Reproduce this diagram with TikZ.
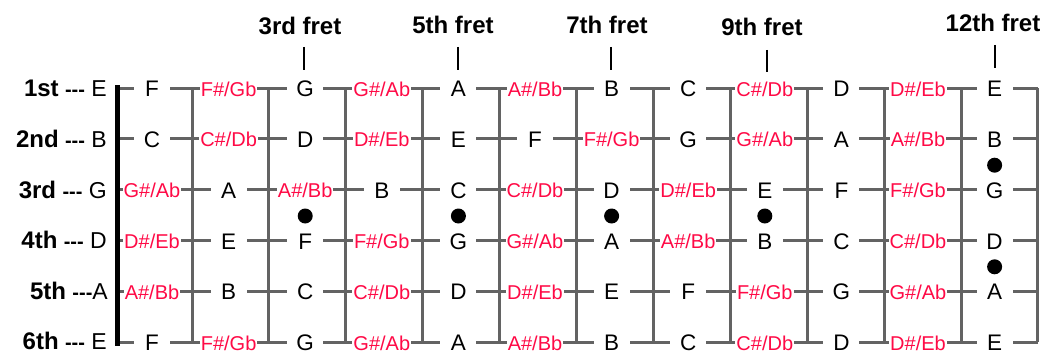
\documentclass[tikz,border=0pt]{standalone}
\usepackage{fontspec}
\setmainfont{Liberation Sans}
\usetikzlibrary{calc}

\definecolor{notered}{HTML}{FF0A46}
\definecolor{wire}{HTML}{636363}

% pitch class 0..11 -> name
\newcommand\notename[1]{\ifcase#1 C\or C\#/Db\or D\or D\#/Eb\or E\or F\or F\#/Gb\or G\or G\#/Ab\or A\or A\#/Bb\or B\fi}

\tikzset{
  string/.style={line width=3pt, wire},
  fret/.style={line width=3pt, wire},
  nut/.style={line width=5pt, black},
  tick/.style={line width=1.3pt, black},
  natural/.style={fill=white, inner sep=0pt, minimum width=36pt, minimum height=20pt, font=\fontsize{22.5}{22.5}\selectfont},
  sharp/.style={natural, minimum width=0pt, inner xsep=1pt, text=notered, font=\fontsize{20}{20}\selectfont},
  fretlabel/.style={anchor=base, font=\bfseries\fontsize{24}{24}\selectfont},
  stringlabel/.style={anchor=east, inner sep=0pt, font=\fontsize{23}{23}\selectfont},
  dot/.style={circle, fill=black, inner sep=0pt, minimum size=15pt},
  pc0/.style=natural, pc1/.style=sharp, pc2/.style=natural, pc3/.style=sharp,
  pc4/.style=natural, pc5/.style=natural, pc6/.style=sharp, pc7/.style=natural,
  pc8/.style=sharp, pc9/.style=natural, pc10/.style=sharp, pc11/.style=natural,
}

\newcommand\strnum[1]{{\bfseries\fontsize{24}{24}\selectfont #1}}
\newcommand\dashes{{\bfseries\fontsize{20}{20}\selectfont -{}-{}-}}

\begin{document}
\begin{tikzpicture}[x=1pt, y=-1pt, line join=round]
\useasboundingbox (0,0) rectangle (1048,353);

% strings, frets and nut
\foreach \s in {1,...,6}
  \draw[string] (117,{88+50.8*(\s-1)}) -- (1038,{88+50.8*(\s-1)});
\foreach \k in {1,...,12}
  \draw[fret] ({192+76.9*(\k-1)},88) -- ({192+76.9*(\k-1)},342);
\draw[nut] (117,85) -- (117,346);

% notes on every fret
\foreach \s/\o in {1/4, 2/11, 3/7, 4/2, 5/9, 6/4}{
  \foreach \f in {1,...,12}{
    \pgfmathtruncatemacro\k{mod(\o+\f,12)}
    \node[pc\k] (note\s_\f) at ({152+76.6*(\f-1)},{89+50.8*(\s-1)}) {\notename\k};
  }
}

% open strings
\node[stringlabel] (str1) at (107,88.0) {\strnum{1st} \dashes{} E};
\node[stringlabel] (str2) at (107,138.8) {\strnum{2nd} \dashes{} B};
\node[stringlabel] (str3) at (107,189.6) {\strnum{3rd} \dashes{} G};
\node[stringlabel] (str4) at (107,240.4) {\strnum{4th} \dashes{} D};
\node[stringlabel] (str5) at (108,291.2) {\strnum{5th} \dashes{}A};
\node[stringlabel] (str6) at (107,341.0) {\strnum{6th} \dashes{} E};

% position dots
\node[dot] (dot3) at ($(note3_3)!0.5!(note4_3)$) {};
\node[dot] (dot5) at ($(note3_5)!0.5!(note4_5)$) {};
\node[dot] (dot7) at ($(note3_7)!0.5!(note4_7)$) {};
\node[dot] (dot9) at ($(note3_9)!0.5!(note4_9)$) {};
\node[dot] (dot12a) at ($(note2_12)!0.5!(note3_12)$) {};
\node[dot] (dot12b) at ($(note4_12)!0.5!(note5_12)$) {};

% fret markers
\node[fretlabel] (fret3) at (300,35) {3rd fret};
\node[fretlabel] (fret5) at (453,34) {5th fret};
\node[fretlabel] (fret7) at (607,34) {7th fret};
\node[fretlabel] (fret9) at (762,36) {9th fret};
\node[fretlabel] (fret12) at (993,32) {12th fret};

\draw[tick] (304,47) -- (304,70);
\draw[tick] (458,47) -- (458,70);
\draw[tick] (611,47) -- (611,70);
\draw[tick] (767,50) -- (767,72);
\draw[tick] (995,45) -- (995,68);

\end{tikzpicture}
\end{document}
